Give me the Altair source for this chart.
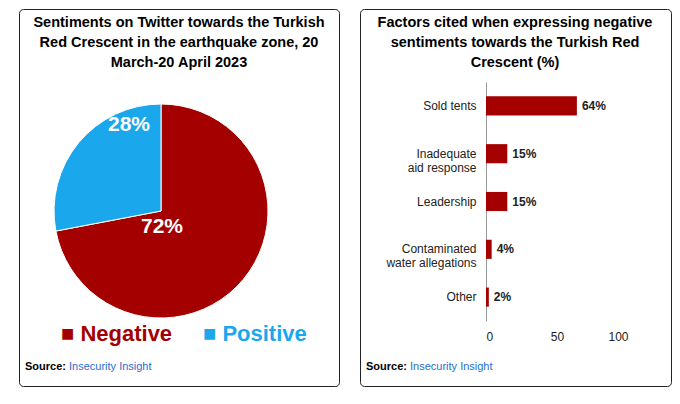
import altair as alt
import pandas as pd

sentiments = ["Negative", "Positive"]
shares = [72, 28]
factors = ["Sold tents", "Inadequate|aid response", "Leadership", "Contaminated|water allegations", "Other"]
factor_pct = [64, 15, 15, 4, 2]

RED = "#A50000"
BLUE = "#1AA7EC"
FONT = "Liberation Sans"

pie_df = pd.DataFrame({"s": sentiments, "v": shares, "o": [0, 1],
                       "lab": [f"{v}%" for v in shares]})
bar_df = pd.DataFrame({"f": factors, "p": factor_pct, "lab": [f"{v}%" for v in factor_pct]})
one = pd.DataFrame({"k": [0]})

W1, W2, H = 320, 311, 377


def text(t, x, y, size=14.5, color="#000", bold=True, align="center"):
    return alt.Chart(one).mark_text(text=t, fontSize=size, color=color, font=FONT,
                                    fontWeight="bold" if bold else "normal",
                                    align=align, baseline="middle").encode(
        x=alt.value(x), y=alt.value(y))


# left panel: pie
base = alt.Chart(pie_df)
pie = base.mark_arc(radius=107, stroke="white", strokeWidth=1).encode(
    theta=alt.Theta("v:Q", stack=True),
    order=alt.Order("o:Q"),
    color=alt.Color("s:N", scale=alt.Scale(domain=sentiments, range=[RED, BLUE]), legend=None),
    x=alt.value(142), y=alt.value(202),
)
lab_neg = base.transform_filter("datum.s == 'Negative'").mark_text(
    fontSize=21, fontWeight="bold", color="white", font=FONT).encode(
    text="lab:N", x=alt.value(143), y=alt.value(218))
lab_pos = base.transform_filter("datum.s == 'Positive'").mark_text(
    fontSize=21, fontWeight="bold", color="white", font=FONT).encode(
    text="lab:N", x=alt.value(110), y=alt.value(116))

left = alt.layer(
    text("Sentiments on Twitter towards the Turkish", 160, 14),
    text("Red Crescent in the earthquake zone, 20", 160, 34),
    text("March-20 April 2023", 160, 54),
    pie, lab_neg, lab_pos,
    text("■ Negative", 42, 325, size=22, color=RED, align="left"),
    text("■ Positive", 184, 325, size=22, color=BLUE, align="left"),
    text("Source:", 6, 358, size=11, align="left"),
    text("Insecurity Insight", 50, 358, size=11, color="#1F6FD0", bold=False, align="left"),
).properties(width=W1, height=H)

# right panel: bars
bars_base = alt.Chart(bar_df).encode(
    y=alt.Y("f:N", sort=factors, title=None,
            scale=alt.Scale(range=[73, 312], paddingInner=0.6, paddingOuter=0.3),
            axis=alt.Axis(offset=-126, labelExpr="split(datum.label, '|')", ticks=False,
                          labelFont=FONT, labelFontSize=12, labelColor="#222",
                          labelPadding=10, domainColor="#999", labelLimit=200)),
    x=alt.X("p:Q", title=None,
            scale=alt.Scale(domain=[0, 100], range=[126, 268]),
            axis=alt.Axis(values=[0, 50, 100], offset=-61, domain=False, ticks=False,
                          grid=False, labelFont=FONT, labelFontSize=12, labelColor="#222",
                          labelPadding=6)),
)
bars = bars_base.mark_bar(color=RED)
blabs = bars_base.mark_text(align="left", dx=5, fontSize=12, fontWeight="bold",
                            font=FONT, color="#222").encode(text="lab:N")

right = alt.layer(
    text("Factors cited when expressing negative", 155, 14),
    text("sentiments towards the Turkish Red", 155, 34),
    text("Crescent (%)", 155, 54),
    bars, blabs,
    text("Source:", 6, 358, size=11, align="left"),
    text("Insecurity Insight", 50, 358, size=11, color="#1F6FD0", bold=False, align="left"),
).properties(width=W2, height=H)

chart = alt.hconcat(left, right, spacing=19).properties(
    padding={"left": 10, "top": 0, "right": 0, "bottom": 0}
).configure_view(stroke="#222", strokeWidth=1, cornerRadius=4)

chart.save("out.html", embed_options={"renderer": "svg", "actions": False})
